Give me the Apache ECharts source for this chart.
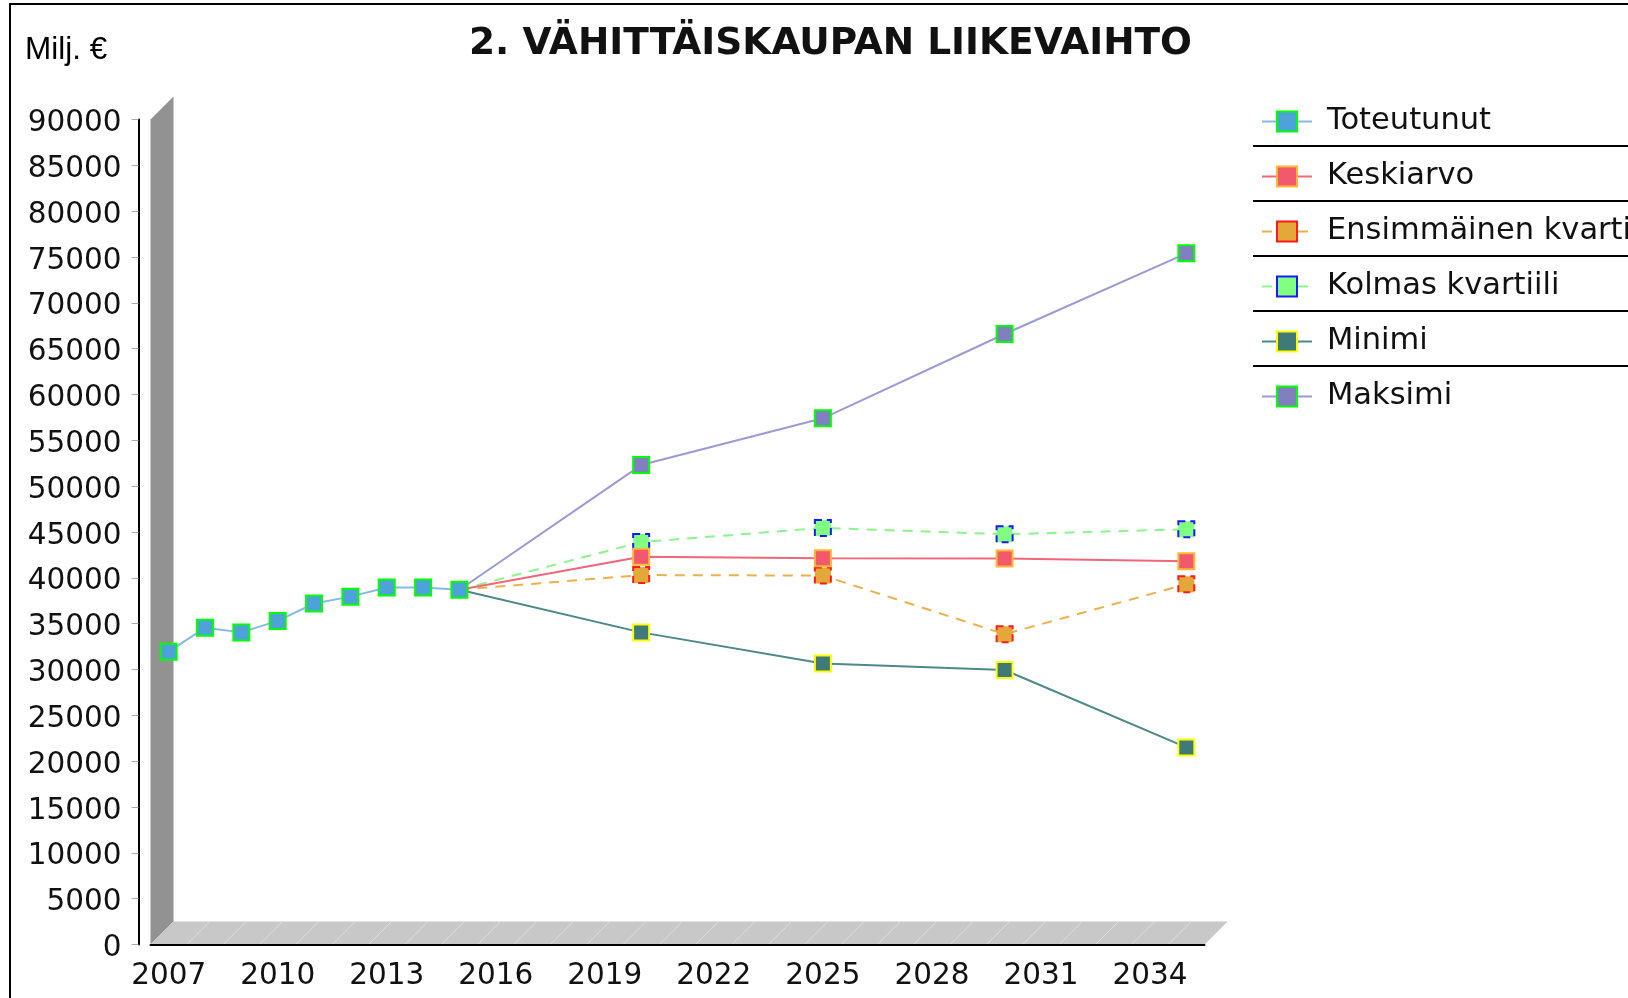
<!DOCTYPE html>
<html>
<head>
<meta charset="utf-8">
<script src="https://cdn.jsdelivr.net/npm/echarts@6/dist/echarts.min.js"></script>
<style>
  html, body { margin: 0; padding: 0; background: #fff; }
  #main { width: 1628px; height: 998px; }
</style>
</head>
<body>
<div id="main"></div>
<script>
const years = ['2007','2008','2009','2010','2011','2012','2013','2014','2015','2016','2017','2018','2019','2020',
  '2021','2022','2023','2024','2025','2026','2027','2028','2029','2030','2031','2032','2033','2034','2035']

// toteutunut 2007-2015
const actualYears = ['2007','2008','2009','2010','2011','2012','2013','2014','2015']
const toteutunut = [31950, 34550, 34050, 35300, 37200, 37950, 38950, 38950, 38700]

// ennusteet, alkavat 2015 viimeisestä toteumasta
const forecastYears = ['2015','2020','2025','2030','2035']
const keskiarvo = [38700, 42300, 42150, 42100, 41800]
const ensKvartiili = [38700, 40300, 40250, 33850, 39300]
const kolmKvartiili = [38700, 43900, 45450, 44750, 45300]
const minimi = [38700, 34050, 30650, 29950, 21500]
const maksimi = [38700, 52300, 57400, 66600, 75400]

const yTicks = [0, 90000, 5000]   // min, max, interval

function spread(keys, vals, hideFirst) {
  return years.map(y => {
    const i = keys.indexOf(y)
    if (i < 0) return null
    if (hideFirst && i === 0) return { value: vals[i], symbol: 'none' }
    return vals[i]
  })
}

const FONT = 'DejaVu Sans'
const depth = 23

function lineSeries(name, data, line, fill, border, dashed, z) {
  return {
    name, type: 'line', data, z, connectNulls: true,
    symbol: 'rect', symbolSize: 16,
    lineStyle: { color: line, width: 2, type: dashed ? [10, 8] : 'solid' },
    itemStyle: { color: fill, borderColor: border, borderWidth: 2, borderType: dashed ? [7, 5] : 'solid' },
    emphasis: { disabled: true }
  }
}

const chart = echarts.init(document.getElementById('main'))
chart.setOption({
  animation: false,
  backgroundColor: '#fff',
  title: [
    { text: '2. VÄHITTÄISKAUPAN LIIKEVAIHTO', left: 464, top: 20,
      textStyle: { fontFamily: FONT, fontWeight: 'bold', fontSize: 37.5, color: '#111' } },
    { text: 'Milj. €', left: 20, top: 29,
      textStyle: { fontFamily: 'Liberation Sans', fontWeight: 'normal', fontSize: 31.5, color: '#000' } }
  ],
  legend: {
    orient: 'vertical', left: 1256, top: 101, itemWidth: 50, itemHeight: 25, itemGap: 24,
    data: ['Toteutunut', 'Keskiarvo', 'Ensimmäinen kvartiili', 'Kolmas kvartiili', 'Minimi', 'Maksimi'],
    textStyle: { fontFamily: FONT, fontSize: 30.5, color: '#111', lineHeight: 30, padding: [0, 0, 0, 10] }
  },
  grid: { left: 150.5, top: 119.5, width: 1054, height: 825, containLabel: false },
  xAxis: {
    type: 'category', data: years, boundaryGap: true,
    axisLine: { lineStyle: { color: '#000', width: 2 } },
    axisTick: { interval: 0, length: 7, lineStyle: { color: '#aaa' } },
    axisLabel: { interval: 2, margin: 17, fontFamily: FONT, fontSize: 29.5, color: '#111' },
    splitLine: { show: false }
  },
  yAxis: {
    type: 'value', min: yTicks[0], max: yTicks[1], interval: yTicks[2], offset: 12,
    axisLine: { show: true, lineStyle: { color: '#000', width: 2 } },
    axisTick: { show: true, length: 7, lineStyle: { color: '#aaa' } },
    axisLabel: { margin: 17, color: '#111',
      formatter: v => '{t|' + v + '}',
      rich: { t: { fontFamily: FONT, fontSize: 29.5, color: '#111', padding: [8, 0, 0, 0] } } },
    splitLine: { show: false }
  },
  series: [
    lineSeries('Maksimi', spread(forecastYears, maksimi, true), '#9a9ad6', '#8080c0', '#00ff00', false, 3),
    lineSeries('Minimi', spread(forecastYears, minimi, true), '#4c8987', '#3f7a78', '#ffff00', false, 4),
    lineSeries('Kolmas kvartiili', spread(forecastYears, kolmKvartiili, true), '#8cf58c', '#80ff80', '#1a1aff', true, 5),
    lineSeries('Ensimmäinen kvartiili', spread(forecastYears, ensKvartiili, true), '#eeb04a', '#e3a73a', '#ff1a1a', true, 6),
    lineSeries('Keskiarvo', spread(forecastYears, keskiarvo, true), '#f2667a', '#f2596d', '#ffb833', false, 7),
    lineSeries('Toteutunut', spread(actualYears, toteutunut, false), '#86bae4', '#4ea2da', '#00ff00', false, 8)
  ]
})

// 3D-seinä ja lattia akselien mukaan
function drawFrame() {
  const x0 = chart.convertToPixel({ xAxisIndex: 0 }, 0)
  const x1 = chart.convertToPixel({ xAxisIndex: 0 }, 1)
  const band = x1 - x0
  const left = x0 - band / 2
  const right = left + band * years.length
  const yTop = chart.convertToPixel({ yAxisIndex: 0 }, yTicks[1])
  const yBot = chart.convertToPixel({ yAxisIndex: 0 }, yTicks[0])
  const els = [
    { type: 'polygon', z: -10, silent: true,
      shape: { points: [[left, yBot], [left, yTop], [left + depth, yTop - depth], [left + depth, yBot - depth]] },
      style: { fill: '#929292' } },
    { type: 'polygon', z: -10, silent: true,
      shape: { points: [[left, yBot], [left + depth, yBot - depth], [right + depth, yBot - depth], [right, yBot]] },
      style: { fill: '#c8c8c8' } }
  ]
  for (let i = 1; i <= years.length; i++) {
    const x = left + band * i
    els.push({ type: 'line', z: -9, silent: true,
      shape: { x1: x, y1: yBot, x2: x + depth, y2: yBot - depth },
      style: { stroke: '#dedede', lineWidth: 1 } })
  }
  // legendan erotinviivat
  for (let k = 0; k < 5; k++) {
    const y = 146 + k * 55
    els.push({ type: 'line', silent: true,
      shape: { x1: 1253, y1: y, x2: 1640, y2: y },
      style: { stroke: '#000', lineWidth: 2 } })
  }
  // kehys
  els.push({ type: 'rect', silent: true,
    shape: { x: 10, y: 4, width: 1700, height: 1100 },
    style: { fill: null, stroke: '#000', lineWidth: 2 } })
  chart.setOption({ graphic: els })
}
drawFrame()
</script>
</body>
</html>
